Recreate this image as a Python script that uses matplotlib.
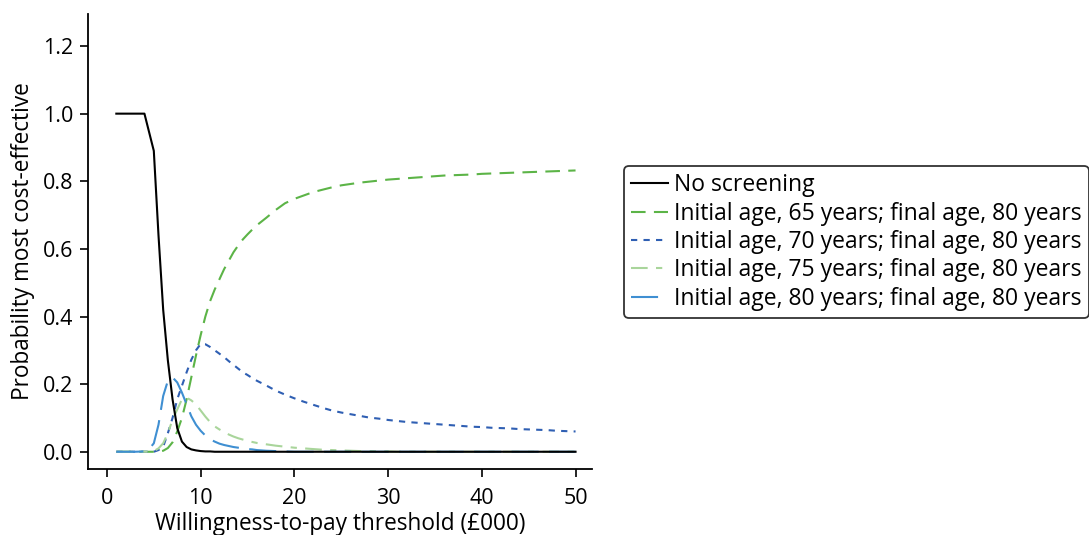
import matplotlib
matplotlib.use("Agg")
import matplotlib.pyplot as plt

# Willingness-to-pay thresholds (£000); half steps where the curves move fastest
wtp = ([1, 2, 3, 4, 4.5, 5, 5.5, 6, 6.5, 7, 7.5, 8, 8.5, 9, 9.5, 10,
        10.5, 11, 11.5, 12, 12.5, 13, 13.5, 14, 14.5, 15, 15.5, 16]
       + list(range(17, 51)))

no_screening = [1.0, 1.0, 1.0, 1.0, 0.945, 0.89, 0.64, 0.42, 0.27, 0.155, 0.07, 0.03, 0.014, 0.007, 0.004, 0.002,
                0.001, 0.001] + [0.0] * 44

age65 = [0.0, 0.0, 0.0, 0.0, 0.0, 0.0, 0.0, 0.003, 0.011, 0.028, 0.06, 0.10, 0.155, 0.22, 0.285, 0.345,
         0.40, 0.445, 0.48, 0.51, 0.54, 0.565, 0.59, 0.61, 0.628, 0.643, 0.657, 0.67,
         0.692, 0.715, 0.735, 0.748, 0.758, 0.768, 0.775, 0.782, 0.788, 0.792,
         0.796, 0.799, 0.802, 0.805, 0.807, 0.809, 0.811, 0.813, 0.815, 0.817,
         0.818, 0.819, 0.820, 0.822, 0.823, 0.824, 0.825, 0.826, 0.827, 0.828,
         0.829, 0.830, 0.831, 0.832]

age70 = [0.0, 0.0, 0.0, 0.0, 0.0, 0.0, 0.005, 0.015, 0.055, 0.10, 0.155, 0.195, 0.235, 0.272, 0.30, 0.319,
         0.318, 0.31, 0.30, 0.29, 0.28, 0.268, 0.257, 0.246, 0.235, 0.227, 0.218, 0.21,
         0.196, 0.181, 0.169, 0.158, 0.148, 0.139, 0.130, 0.122, 0.116, 0.111,
         0.106, 0.101, 0.098, 0.094, 0.091, 0.088, 0.086, 0.084, 0.082, 0.080,
         0.078, 0.076, 0.074, 0.073, 0.071, 0.070, 0.069, 0.067, 0.066, 0.065,
         0.064, 0.062, 0.061, 0.060]

age75 = [0.0, 0.0, 0.0, 0.0, 0.0, 0.002, 0.01, 0.025, 0.055, 0.095, 0.125, 0.155, 0.16, 0.152, 0.14, 0.122,
         0.104, 0.088, 0.075, 0.066, 0.058, 0.051, 0.045, 0.040, 0.036, 0.032, 0.029, 0.026,
         0.022, 0.018, 0.015, 0.012, 0.010, 0.008, 0.006, 0.005, 0.004, 0.003,
         0.002, 0.002, 0.001, 0.001] + [0.0] * 20

age80 = [0.0, 0.0, 0.0, 0.001, 0.008, 0.025, 0.08, 0.165, 0.21, 0.22, 0.205, 0.175, 0.14, 0.105, 0.08, 0.062,
         0.048, 0.037, 0.030, 0.024, 0.020, 0.017, 0.014, 0.012, 0.010, 0.008, 0.007, 0.005,
         0.003, 0.002, 0.001] + [0.0] * 31

labels = [
    "No screening",
    "Initial age, 65 years; final age, 80 years",
    "Initial age, 70 years; final age, 80 years",
    "Initial age, 75 years; final age, 80 years",
    "Initial age, 80 years; final age, 80 years",
]

plt.rcParams["font.family"] = ["Open Sans", "DejaVu Sans"]

fig = plt.figure(figsize=(10.89, 5.35), dpi=100)
ax = fig.add_axes([0.081, 0.124, 0.463, 0.85])

ax.plot(wtp, no_screening, color="black", lw=1.5, label=labels[0], zorder=5)
ax.plot(wtp, age65, color="#5cb447", lw=1.5, dashes=(7, 4), label=labels[1])
ax.plot(wtp, age70, color="#2f5fb3", lw=1.5, dashes=(3, 3), label=labels[2])
ax.plot(wtp, age75, color="#a9d59b", lw=1.5, dashes=(8, 4, 3, 4), label=labels[3])
ax.plot(wtp, age80, color="#3f8fd2", lw=1.5, dashes=(13, 5), label=labels[4])

ax.set_xlim(-2, 51.8)
ax.set_ylim(-0.05, 1.295)
ax.set_xticks([0, 10, 20, 30, 40, 50])
yt = [0.0, 0.2, 0.4, 0.6, 0.8, 1.0, 1.2]
ax.set_yticks(yt)
ax.set_yticklabels([f"{v:.1f}" for v in yt])
ax.spines["top"].set_visible(False)
ax.spines["right"].set_visible(False)
ax.tick_params(direction="out", length=6, width=1.2, labelsize=15.5)
ax.tick_params(axis="x", pad=8)
ax.tick_params(axis="y", pad=5)
for s in ("left", "bottom"):
    ax.spines[s].set_linewidth(1.3)

ax.set_xlabel("Willingness-to-pay threshold (£000)", fontsize=16.3, labelpad=2)
ax.set_ylabel("Probability most cost-effective", fontsize=16.3, labelpad=5)

leg = fig.legend(loc="upper left", bbox_to_anchor=(0.573, 0.689), fontsize=16.5,
                 handlelength=1.6, handletextpad=0.3, labelspacing=0.19,
                 borderpad=0.3, borderaxespad=0, frameon=True, fancybox=True)
leg.get_frame().set_edgecolor("black")
leg.get_frame().set_linewidth(1.3)

fig.savefig("out.png", dpi=100)
